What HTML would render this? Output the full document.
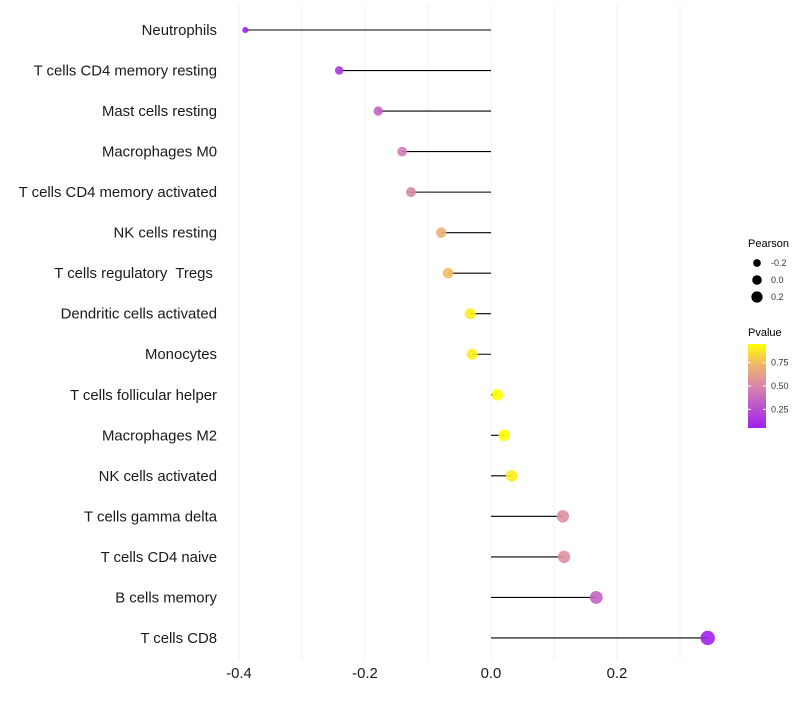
<!DOCTYPE html>
<html><head><meta charset="utf-8"><style>
body{margin:0;background:#fff;font-family:"Liberation Sans",sans-serif}
text{white-space:pre}
</style></head><body>
<svg id="c" width="800" height="700" xmlns="http://www.w3.org/2000/svg" font-family="Liberation Sans, sans-serif"></svg>
<script>
const categories=["Neutrophils","T cells CD4 memory resting","Mast cells resting","Macrophages M0","T cells CD4 memory activated","NK cells resting","T cells regulatory  Tregs ","Dendritic cells activated","Monocytes","T cells follicular helper","Macrophages M2","NK cells activated","T cells gamma delta","T cells CD4 naive","B cells memory","T cells CD8"];
const pearson=[-0.390,-0.241,-0.179,-0.141,-0.127,-0.079,-0.068,-0.033,-0.030,0.010,0.021,0.033,0.114,0.116,0.167,0.344];
const pvalues=[0.02,0.15,0.35,0.45,0.5,0.7,0.75,0.9,0.9,0.95,0.95,0.9,0.55,0.55,0.35,0.05];
const xTicks=[-0.4,-0.2,0.0,0.2];
const xTickLabels=["-0.4","-0.2","0.0","0.2"];
const gridVals=[-0.4,-0.3,-0.2,-0.1,0,0.1,0.2,0.3];
const sizeLegend=[-0.2,0.0,0.2];
const colorTicks=[0.25,0.5,0.75];

const NS="http://www.w3.org/2000/svg";
const svg=document.getElementById('c');
function el(t,a,p){const e=document.createElementNS(NS,t);for(const k in a)e.setAttribute(k,a[k]);(p||svg).appendChild(e);return e;}
const x=v=>491+v*630;
const y=i=>30+i*40.53;
const rad=v=>Math.sqrt(Math.max(3,32+58*v));
const stops=[[0,[160,32,240]],[0.5,[215,135,170]],[0.75,[240,180,110]],[1,[255,255,0]]];
function col(p){const t=Math.max(0,Math.min(1,(p-0.05)/0.9));for(let i=1;i<stops.length;i++){if(t<=stops[i][0]){const[a,ca]=stops[i-1],[b,cb]=stops[i];const f=(t-a)/(b-a);return`rgb(${ca.map((c,j)=>Math.round(c+(cb[j]-c)*f)).join(',')})`;}}return'rgb(255,255,0)';}

gridVals.forEach(v=>{const g=el('line',{x1:x(v),x2:x(v),y1:5,y2:660,stroke:'#f0f0f0','stroke-width':1});

});

categories.forEach((c,i)=>{
 const t=el('text',{x:217,y:y(i)+5,'text-anchor':'end','font-size':14.9,fill:'#1a1a1a'});t.textContent=c;
 
 
 const l=el('line',{x1:x(0),x2:x(pearson[i]),y1:y(i),y2:y(i),stroke:'#000','stroke-width':1.1});
 
 
 const p=el('circle',{cx:x(pearson[i]),cy:y(i),r:rad(pearson[i]),fill:col(pvalues[i]),'fill-opacity':0.9});
 
 
});
xTicks.forEach((v,i)=>{const t=el('text',{x:x(v),y:678,'text-anchor':'middle','font-size':14.9,fill:'#1a1a1a'});t.textContent=xTickLabels[i];

});

let t=el('text',{x:748,y:247,'font-size':11,fill:'#000'});t.textContent='Pearson';


sizeLegend.forEach((v,i)=>{const cy=263+i*17;
 const c=el('circle',{cx:757,cy:cy,r:rad(v)*0.85,fill:'#000'});
 
 
 const s=el('text',{x:771,y:cy+3,'font-size':9,fill:'#333'});s.textContent=v.toFixed(1);
 
 });

t=el('text',{x:748,y:336,'font-size':11,fill:'#000'});t.textContent='Pvalue';


const defs=el('defs',{});const lg=el('linearGradient',{id:'g',x1:0,y1:1,x2:0,y2:0},defs);
[0,0.5,0.75,1].forEach(o=>el('stop',{offset:o,'stop-color':col(0.05+o*0.9)},lg));
const bar=el('rect',{x:748,y:344,width:18,height:84,fill:'url(#g)'});


colorTicks.forEach(v=>{const cy=428-(v-0.05)/0.9*84;
 el('line',{x1:748,x2:751,y1:cy,y2:cy,stroke:'#fff'});el('line',{x1:763,x2:766,y1:cy,y2:cy,stroke:'#fff'});
 const s=el('text',{x:771,y:cy+3,'font-size':9,fill:'#333'});s.textContent=v.toFixed(2);
 
 });
</script>
</body></html>
